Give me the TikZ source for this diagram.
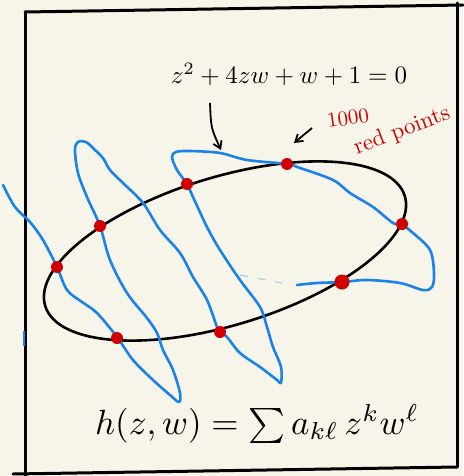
\documentclass[tikz,border=0pt]{standalone}
\usetikzlibrary{arrows.meta}
\definecolor{bg}{RGB}{247,245,234}
\definecolor{skblue}{RGB}{25,130,235}
\definecolor{skred}{RGB}{208,0,0}
\tikzset{
  frameline/.style={line width=3pt, black, line cap=round},
  blueline/.style={line width=2.6pt, skblue, line cap=round, line join=round},
  reddot/.style={circle, fill=skred, inner sep=0pt, minimum size=12pt},
  sketcharrow/.style={line width=1.8pt, black, -{Straight Barb[length=7pt,width=9pt]}},
  redtext/.style={text=skred, inner sep=0pt},
}
\begin{document}
\begin{tikzpicture}[x=1pt,y=-1pt]
\fill[bg] (0,0) rectangle (463,476);
\useasboundingbox (0,0) rectangle (463,476);
% frame
\coordinate (tl) at (25,12);
\coordinate (tr) at (463,5);
\coordinate (rt) at (457,3);
\coordinate (rb) at (457,467);
\coordinate (bl) at (13,474);
\coordinate (lb) at (25,476);
\draw[frameline] (tl) -- (tr);
\draw[frameline] (rt) -- (rb);
\draw[frameline] (bl) -- (rb);
\draw[frameline] (tl) -- (lb);
% ellipse
\coordinate (ec) at (225,251);
\draw[line width=2.6pt, rotate around={17:(ec)}] (ec) ellipse [x radius=188, y radius=74];
% blue curve
\draw[blueline] plot[smooth, tension=0.55] coordinates {
(3,185) (15,207) (30,222) (43,240) (57,267) (67,290) (82,302) (97,313) (117,337)
(133,360) (153,380) (170,395) (179,402) (180,393) (173,370) (163,350) (157,333)
(147,318) (127,293) (110,260) (100,226) (87,197) (78,173) (75,150) (78,142)
(86,142) (95,150) (103,158) (110,170) (123,183) (143,203) (160,230) (180,253)
(193,277) (207,300) (217,327) (220,332) (227,337) (240,353) (260,367) (277,380)
(281,383) (281,367) (273,347) (267,327) (260,307) (240,280) (220,250) (207,227)
(193,197) (187,184) (177,170) (172,157) (176,152) (190,151) (220,153) (247,160)
(287,164) (300,168) (333,180) (350,193) (373,207) (393,223) (402,225) (413,233)
(430,250) (434,273) (432,287) (423,290) (400,283) (367,280) (343,282) (317,283)
(297,285)};
\draw[line width=1pt, skblue!45, dash pattern=on 8pt off 10pt] (240,275) -- (282,283);
\draw[line width=2pt, skblue] (24,331) -- (24,346);
% red points
\node[reddot] (p1) at (57,267) {};
\node[reddot] (p2) at (100,226) {};
\node[reddot] (p3) at (187,184) {};
\node[reddot] (p4) at (287,164) {};
\node[reddot] (p5) at (402,224) {};
\node[reddot, minimum size=15pt] (p6) at (342,282) {};
\node[reddot] (p7) at (220,332) {};
\node[reddot] (p8) at (117,338) {};
% labels
\node[scale=2.5] (eq) at (289,74) {$z^2 + 4zw + w + 1 = 0$};
\node[scale=3.5] (hf) at (257,424) {$h(z,w) = \sum a_{k\ell}\, z^k w^\ell$};
\node[redtext, scale=2.1, rotate=8] (n1000) at (348,118) {1000};
\node[redtext, scale=2.3, rotate=21] (redpts) at (402,131) {red points};
% arrows
\coordinate (a1s) at (210,103);
\coordinate (a1e) at (221,150);
\draw[sketcharrow] (a1s) .. controls (211,128) .. (a1e);
\coordinate (a2s) at (312,128);
\coordinate (a2e) at (294,143);
\draw[sketcharrow] (a2s) -- (a2e);
\end{tikzpicture}
\end{document}
